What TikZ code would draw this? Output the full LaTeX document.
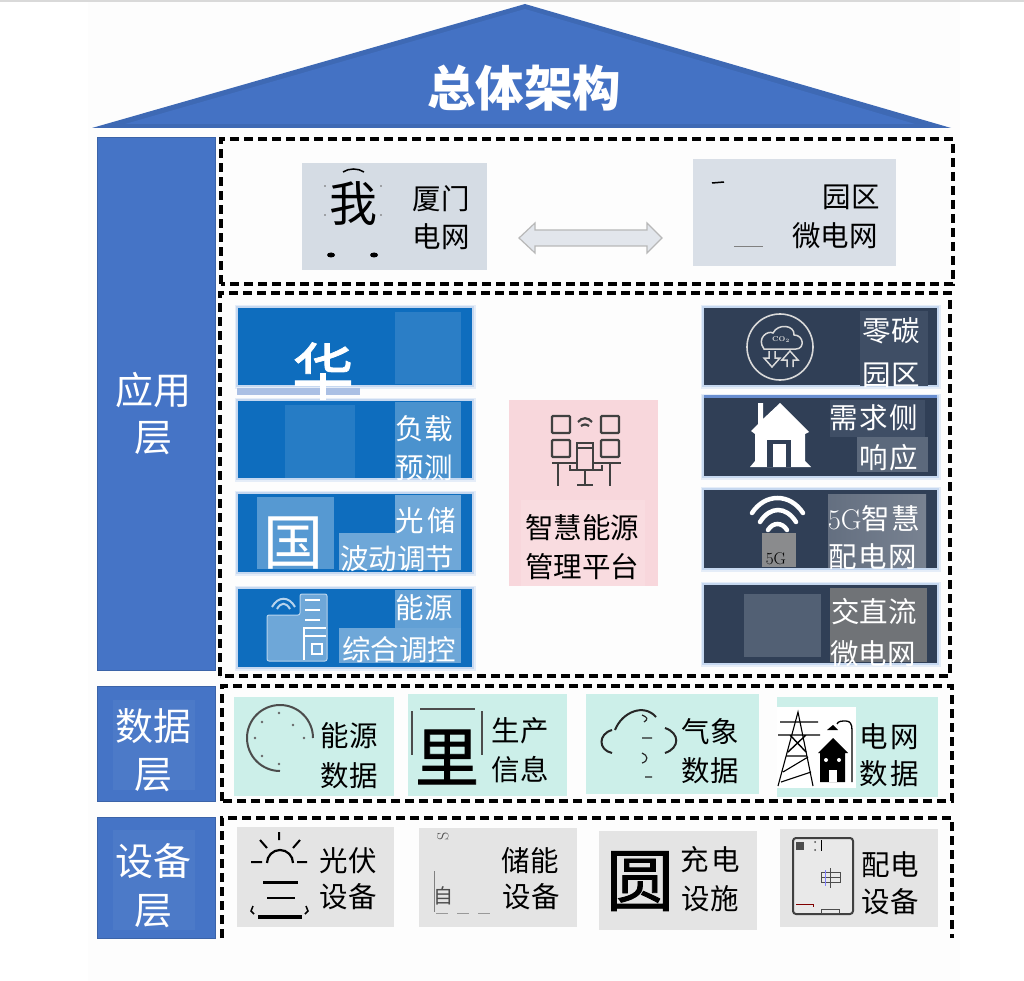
\documentclass[tikz,border=0pt]{standalone}
\usepackage{fontspec}
\newfontfamily\cjk{Noto Sans CJK SC}
\newfontfamily\cjkfat[FakeBold=1.2]{Noto Sans CJK SC}
\newcommand{\fs}[1]{\fontsize{#1}{#1}\selectfont}
\definecolor{roofblue}{HTML}{4472C4}
\definecolor{layerblue}{HTML}{4574C6}
\definecolor{cardblue}{HTML}{0E6DBE}
\definecolor{glowblue}{HTML}{C6D8F0}
\definecolor{carddark}{HTML}{303F56}
\definecolor{panellow}{HTML}{3F4E65}
\definecolor{greybox}{HTML}{D5DCE4}
\definecolor{tealbox}{HTML}{CCEFE9}
\definecolor{devbox}{HTML}{E4E4E4}
\definecolor{pinkbox}{HTML}{F8D7DC}
\tikzset{
	layertext/.style={font=\cjk\fs{38},text=white,inner sep=0pt},
	itemtext/.style={font=\cjk\fs{28.5},text=black,inner sep=0pt},
	whitetext/.style={font=\cjk\fs{28.5},text=white,inner sep=0pt},
	dashbox/.style={black,line width=3.2pt,dash pattern=on 9pt off 5pt},
	card/.style={draw=glowblue,line width=1.5pt},
	halo/.style={draw=glowblue!45,line width=5pt},
	iconline/.style={black!75,line width=2.2pt},
}
\begin{document}
\begin{tikzpicture}[x=1pt,y=-1pt,>=stealth]
	\useasboundingbox (0,0) rectangle (1024,981);
	\fill[white] (0,0) rectangle (1024,981);
	\fill[black!15] (0,0) rectangle (1024,2);
	\fill[black!0.6] (88,2) rectangle (960,981);
	% roof
	\fill[roofblue!92!black] (92,128) -- (525,4) -- (951,128) -- cycle;
	\fill[roofblue] (125,124) -- (525,9) -- (915,124) -- cycle;
	\node[font=\cjk\bfseries\fs{48.5},text=white,inner sep=0pt] (roof) at (524,88) {总体架构};
	% left column
	\foreach \name/\ya/\yb in {app/138/670,data/686/801,dev/817/938}
	\draw[fill=layerblue,draw=layerblue!85!black,line width=1pt] (97,\ya) rectangle (215,\yb) coordinate (\name col);
	\foreach \ya/\yb in {700/790,830/930}
	\fill[layerblue!96!white] (113,\ya) rectangle (195,\yb);
	\foreach \name/\cy/\txt in {appa/390/应用,appb/438/层,dataa/726/数据,datab/775/层,deva/861/设备,devb/911/层}
	\node[layertext] (\name) at (153,\cy) {\txt};
	% dashed frames
	\draw[dashbox] (221,284) -- (221,139) -- (953,139) -- (953,284) -- cycle;
	\draw[dashbox] (220,676) -- (220,293) -- (950,293) -- (950,676) -- cycle;
	\draw[dashbox] (222,801) -- (222,686) -- (952,686) -- (952,801) -- cycle;
	\draw[dashbox] (222,938) -- (222,818) -- (952,818) -- (952,938);
	% top row
	\fill[greybox] (302,163) rectangle (487,270);
	\fill[greybox!90!white] (693,159) rectangle (896,266);
	\node[font=\cjk\fs{48},inner sep=0pt] (wo) at (353,204) {我};
	\foreach \x in {331,374} \fill (\x,255) ellipse (4pt and 2.5pt);
	\draw[line width=1.5pt] (343,172) .. controls (349,168) and (358,168) .. (364,172);
	\foreach \x in {325,381} \foreach \y in {186,215} \fill[black!60] (\x,\y) circle (.8pt);
	\node[itemtext] (xma) at (441,199) {厦门};
	\node[itemtext] (xmb) at (441,237) {电网};
	\node[itemtext] (yqa) at (851,197) {园区};
	\node[itemtext] (yqb) at (835,236) {微电网};
	\draw[line width=1.5pt] (712,183) -- (724,182);
	\draw[black!50,line width=1pt] (734,247) -- (763,247);
	\draw[draw=black!28,fill=greybox!70!white,line width=1.2pt] (519,238) -- (535,223) -- (535,230) -- (647,230) -- (647,223) -- (662,238) -- (647,253) -- (647,246) -- (535,246) -- (535,253) -- cycle;
	% blue cards
	\foreach \ya/\yb in {307/386,400/479,493/573,588/668}
	\draw[halo] (237,\ya) rectangle (473,\yb);
	\fill[roofblue!45] (237,388) rectangle (360,395);
	\foreach \name/\ya/\yb in {ca/307/386,cb/400/479,cc/493/573,cd/588/668}
	\draw[card,fill=cardblue] (237,\ya) rectangle (473,\yb) coordinate (\name);
	\fill[cardblue!88!white] (395,312) rectangle (461,384);
	\fill[cardblue!90!white] (285,405) rectangle (355,478);
	\fill[cardblue!75!white] (395,402) rectangle (461,478);
	\fill[cardblue!70!white] (257,497) rectangle (334,569);
	\fill[cardblue!60!white] (395,495) rectangle (461,533);
	\fill[cardblue!60!white] (339,533) rectangle (461,570);
	\fill[cardblue!65!white] (395,590) rectangle (461,628);
	\fill[cardblue!60!white] (339,628) rectangle (461,663);
	\foreach \name/\cx/\cy/\txt in {fz/424/429/负载,yc/424/468/预测,gc/426/521/{光\hspace{4pt}储},bd/397/559/波动调节,ny/424/608/能源,zh/399/650/综合调控}
	\node[whitetext] (\name) at (\cx,\cy) {\txt};
	\node[font=\cjkfat\fs{62},text=white,inner sep=0pt] (hua) at (323,371) {华};
	\node[font=\cjk\fs{60},text=white,inner sep=0pt] (guo) at (293,543) {国};
	% server icon
	\draw[white!70!cardblue,fill=cardblue!60!white,line width=1pt,rounded corners=2pt] (267,615) -- (300,615) -- (300,594) -- (327,594) -- (327,661) -- (267,661) -- cycle;
	\foreach \y in {600,610,620} \draw[white,line width=2pt] (305,\y) -- (320,\y);
	\draw[white,line width=2.5pt] (304,660) -- (304,628) -- (326,628) (304,636) -- (326,636) (312,644) rectangle (322,654);
	\draw[white!70!cardblue,line width=2pt] (272,607) .. controls (278,596) and (289,596) .. (295,607) (277,609) .. controls (281,602) and (286,602) .. (290,609);
	% dark cards
	\foreach \ya/\yb in {307/386,396/477,489/569,584/664}
	\draw[halo] (703,\ya) rectangle (938,\yb);
	\foreach \name/\ya/\yb in {da/307/386,db/396/477,dc/489/569,dd/584/664}
	\draw[card,fill=carddark] (703,\ya) rectangle (938,\yb) coordinate (\name);
	\fill[roofblue!80] (704,395) rectangle (937,398);
	\fill[panellow] (860,311) rectangle (928,386);
	\fill[panellow] (830,400) rectangle (925,437);
	\fill[panellow!85!white] (857,437) rectangle (928,472);
	\shade[left color=carddark!75!white,right color=carddark!65!white] (828,494) rectangle (926,567);
	\fill[black!50!white,opacity=.8] (830,588) rectangle (927,662);
	\fill[panellow!90!white] (744,594) rectangle (821,657);
	\foreach \name/\cx/\cy/\txt in {lta/891/331/零碳,ltb/891/375/园区,xqa/874/418/{需\hspace{1.5pt}求\hspace{1.5pt}侧},xqb/889/458/{响\hspace{1.5pt}应},wga/874/519/{{\normalfont 5G}智\hspace{1.5pt}慧},wgb/873/557/{配\hspace{1.5pt}电\hspace{1.5pt}网},jza/874/612/交直流,jzb/873/654/微电网}
	\node[whitetext] (\name) at (\cx,\cy) {\txt};
	% co2 icon
	\draw[black!15,line width=1.6pt] (780,347) circle (33);
	\draw[black!15,line width=1.5pt] (764,349) .. controls (756,338) and (768,330) .. (773,333) .. controls (778,323) and (795,325) .. (794,335) .. controls (804,335) and (805,349) .. (796,349) -- cycle;
	\node[font=\bfseries\fs{7},text=black!15,inner sep=0pt] (cotwo) at (781,340) {CO\textsubscript{2}};
	\draw[black!15,line width=1.5pt] (769,351) -- (769,358) -- (764,358) -- (772,367) -- (780,358) -- (775,358) -- (775,351) (787,367) -- (787,360) -- (782,360) -- (790,351) -- (798,360) -- (793,360) -- (793,367);
	% house icon
	\fill[white] (780,403) -- (809,432) -- (805,434) -- (805,461) -- (811,467) -- (750,467) -- (755,461) -- (755,434) -- (751,431) -- (758,424) -- (758,403) -- (763,403) -- (763,419) -- cycle;
	\fill[carddark] (767,440) rectangle (791,467);
	\fill[white] (773,444) rectangle (786,467);
	% wifi icon
	\fill[black!42!white,opacity=.9] (762,533) rectangle (796,567);
	\draw[white,line width=4.5pt,line cap=round] (752,513) .. controls (765,493) and (790,493) .. (803,513);
	\draw[white,line width=4.5pt,line cap=round] (760,522) .. controls (770,506) and (786,506) .. (796,522);
	\draw[white,line width=4.5pt,line cap=round] (768,530) .. controls (773,522) and (782,522) .. (787,530);
	\node[font=\fs{17},text=black,inner sep=0pt] (wifi) at (776,559) {5G};
	% centre platform
	\fill[pinkbox] (509,400) rectangle (658,586);
	\fill[pinkbox!88!white] (521,500) rectangle (645,586);
	\node[itemtext] (zha) at (582,528) {智慧能源};
	\node[itemtext] (zhb) at (582,567) {管理平台};
	\foreach \x/\y in {552/416,601/416,552/440,601/440}
	\draw[iconline,rounded corners=1pt] (\x,\y) rectangle ++(18,17);
	\draw[iconline] (552,463) -- (621,463) (558,463) -- (558,486) (610,463) -- (610,486) (570,465) -- (570,470) -- (577,470) (593,470) -- (602,470) -- (602,465);
	\draw[iconline,fill=pinkbox] (577,443) rectangle (593,470);
	\draw[iconline] (577,448) -- (593,448) (585,470) -- (585,484) (577,485) -- (593,485);
	\draw[iconline] (578,422) .. controls (582,417) and (588,417) .. (592,422) (581,426) .. controls (584,424) and (586,424) .. (589,426);
	% data row
	\fill[tealbox] (234,697) rectangle (394,796);
	\fill[tealbox] (408,694) rectangle (567,796);
	\fill[tealbox] (586,694) rectangle (759,794);
	\fill[tealbox] (777,697) rectangle (938,797);
	\foreach \name/\cx/\cy/\txt in {nya/349/736/能源,nyb/349/776/数据,sca/520/731/生产,scb/520/770/信息,qxa/710/732/气象,qxb/710/771/数据,dwa/889/737/{电\hspace{3pt}网},dwb/889/774/{数\hspace{3pt}据}}
	\node[itemtext] (\name) at (\cx,\cy) {\txt};
	\draw[black!70,line width=2pt] (313,738) arc (0:-270:33);
	\foreach \x/\y in {279/713,262/722,255/738,262/756,279/764,304/738,293/725}
	\fill[black!60] (\x,\y) circle (1.4pt);
	\node[font=\cjkfat\fs{64},inner sep=0pt] (li) at (447,757) {里};
	\draw[black!70,line width=1.2pt] (420,709) -- (475,709) (412,711) -- (412,755) (482,711) -- (482,755);
	% cloud icon
	\draw[black!85,line width=2pt] (612,753) .. controls (598,750) and (598,734) .. (612,730) (615,730) .. controls (622,712) and (644,703) .. (656,717) (665,728) .. controls (680,733) and (680,748) .. (665,753);
	\draw[black!85,line width=1.2pt] (642,715) .. controls (647,717) and (649,719) .. (644,722) (642,738) -- (652,738) (642,753) .. controls (648,755) and (649,761) .. (642,763) (645,777) -- (652,777);
	% grid tower
	\fill[white] (777,707) rectangle (856,788);
	\draw[black,line width=1.1pt] (778,786) -- (798,712) -- (813,786) (786,756) -- (806,756) (783,772) -- (808,757) (781,782) -- (811,772);
	\draw[black,line width=1.4pt] (780,722) -- (818,722) (778,735) -- (820,735) (790,735) -- (806,752) (806,735) -- (788,752);
	\fill[black] (820,782) -- (820,753) -- (818,753) -- (833,738) -- (848,753) -- (845,753) -- (845,782) -- cycle;
	\fill[white] (829,770) rectangle (837,782);
	\foreach \x in {826,839} \fill[white] (\x,760) circle (2pt);
	\draw[black,line width=1.3pt] (837,724) .. controls (838,721) and (842,721) .. (846,721) .. controls (850,721) and (852,724) .. (852,730) -- (852,782);
	\fill[black] (827,730) -- (838,730) -- (833,725) -- cycle;
	% device row
	\fill[devbox] (237,827) rectangle (394,927);
	\fill[devbox] (419,828) rectangle (577,927);
	\fill[devbox] (599,831) rectangle (757,930);
	\fill[devbox] (780,829) rectangle (938,927);
	\foreach \name/\cx/\cy/\txt in {gfa/348/861/光伏,gfb/348/897/设备,cna/530/861/储能,cnb/531/897/设备,cda/710/860/{充\hspace{2pt}电},cdb/710/899/设施,pda/890/865/配电,pdb/890/902/设备}
	\node[itemtext] (\name) at (\cx,\cy) {\txt};
	% sun icon
	\draw[black,line width=2pt] (251,862) -- (262,862) (297,862) -- (307,862) (279,832) -- (279,840) (260,840) -- (267,848) (300,840) -- (293,848);
	\draw[black,line width=2.2pt] (267,863) arc (180:360:13);
	\draw[black,line width=3pt] (263,882) -- (298,882);
	\draw[black,line width=2.5pt] (267,898) -- (295,898);
	\draw[black,line width=3.5pt] (258,917) -- (302,917);
	\draw[black,line width=1.5pt] (253,906) -- (251,911) -- (254,914) (306,906) -- (308,911) -- (305,914);
	\node[font=\fs{16},rotate=90,text=black!70,inner sep=0pt] (ess) at (443,836) {S};
	\node[font=\cjk\fs{20},text=black!70,inner sep=0pt] (zi) at (443,896) {自};
	\draw[black!50,line width=1pt] (434,871) -- (434,912);
	\foreach \x in {436,457,478} \draw[black!40,line width=.8pt] (\x,913) -- ++(12,0);
	\node[font=\cjkfat\fs{68},inner sep=0pt] (yuan) at (640,881) {圆};
	% cabinet icon
	\draw[black!75,line width=2pt,fill=devbox!80!white,rounded corners=3pt] (793,838) rectangle (853,914);
	\fill[black!70] (796,842) rectangle (804,850);
	\foreach \y in {842,850} \fill[black!70] (815,\y) circle (1pt);
	\draw[black,line width=.7pt] (821,840) -- (821,851);
	\draw[black!70,line width=.7pt] (821,872) rectangle (840,882) (830,868) -- (830,888) (821,877) -- (840,877);
	\draw[blue!50,line width=.5pt] (825,870) -- (825,886);
	\draw[red!50!black,line width=.7pt] (796,904) -- (813,904) -- (813,907);
	\draw[black!70,line width=1pt] (821,909) rectangle (839,913);
\end{tikzpicture}
\end{document}
